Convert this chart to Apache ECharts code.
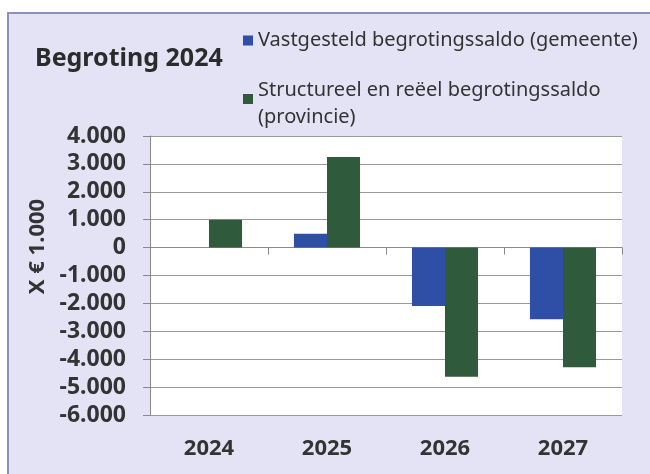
<!DOCTYPE html>
<html>
<head>
<meta charset="utf-8">
<script src="https://cdn.jsdelivr.net/npm/echarts@6/dist/echarts.min.js"></script>
<style>
html, body { margin: 0; padding: 0; background: #ffffff; }
#chart { width: 650px; height: 474px; }
</style>
</head>
<body>
<div id="chart"></div>
<script>
// jaren en saldi (x 1.000 euro)
var jaren = ['2024', '2025', '2026', '2027'];
var gemeente = [0, 500, -2090, -2570];
var provincie = [1000, 3250, -4630, -4290];
var yTicks = { min: -6000, max: 4000, interval: 1000 };

var naamGemeente = 'Vastgesteld begrotingssaldo (gemeente)';
var naamProvincie = 'Structureel en reëel begrotingssaldo\n(provincie)';

var FONT = 'Noto Sans';
var chart = echarts.init(document.getElementById('chart'));

// legenda-icoon: vierkantje bovenaan of in het midden van een hoog vak
var iconMidden = 'path://M0,13.5H10V23.5H0Z M0,0H0.01V0.01Z M0,37H0.01V36.99Z';
var iconBoven = 'path://M0,8.5H10V18.5H0Z M0,0H0.01V0.01Z M0,37H0.01V36.99Z';

var option = {
    backgroundColor: '#ffffff',
    textStyle: { fontFamily: FONT },
    graphic: [{
        type: 'rect',
        left: 7, top: 12, z: -10,
        shape: { width: 660, height: 480 },
        style: { fill: '#e3e3f5', stroke: '#8d92b8', lineWidth: 2 }
    }],
    title: {
        text: 'Begroting 2024',
        left: 35, top: 46,
        padding: 0,
        textStyle: { fontFamily: FONT, fontSize: 25, fontWeight: 'bold', color: '#2b2b2b' }
    },
    legend: {
        orient: 'vertical',
        left: 243, top: 22,
        padding: 0,
        itemGap: 18,
        itemWidth: 10,
        itemHeight: 37,
        textStyle: { fontFamily: FONT, fontSize: 20, color: '#333333', lineHeight: 27 },
        data: [
            { name: naamGemeente, icon: iconMidden },
            { name: naamProvincie, icon: iconBoven }
        ]
    },
    grid: {
        left: 150, right: 28, top: 136, bottom: 59,
        show: true, backgroundColor: '#ffffff', borderWidth: 0
    },
    xAxis: [{
        type: 'category',
        data: jaren,
        position: 'bottom',
        axisLine: { onZero: false, show: false },
        axisTick: { show: false },
        axisLabel: { margin: 23, fontFamily: FONT, fontSize: 22, fontWeight: 'bold', color: '#333333' }
    }, {
        type: 'category',
        data: jaren,
        position: 'bottom',
        axisLine: { onZero: true, lineStyle: { color: '#8a8a8a', width: 1 } },
        axisTick: { show: true, length: 7, lineStyle: { color: '#8a8a8a' } },
        axisLabel: { show: false }
    }],
    yAxis: {
        type: 'value',
        min: yTicks.min, max: yTicks.max, interval: yTicks.interval,
        name: 'X € 1.000',
        nameLocation: 'middle',
        nameGap: 100,
        nameTextStyle: {
            fontFamily: FONT, fontSize: 22, fontWeight: 'bold', color: '#333333',
            padding: [0, 0, 0, 58]
        },
        axisLine: { show: true, lineStyle: { color: '#8a8a8a' } },
        axisTick: { show: true, length: 7, lineStyle: { color: '#8a8a8a' } },
        splitLine: { lineStyle: { color: '#9a9a9a' } },
        axisLabel: {
            margin: 24, fontFamily: FONT, fontSize: 23, fontWeight: 'bold', color: '#333333',
            formatter: function (v) {
                return v.toLocaleString('de-DE');
            }
        }
    },
    series: [{
        name: naamGemeente,
        type: 'bar',
        data: gemeente,
        barGap: '0%',
        barCategoryGap: '44%',
        itemStyle: { color: '#2f4ea6' }
    }, {
        name: naamProvincie,
        type: 'bar',
        data: provincie,
        barGap: '0%',
        barCategoryGap: '44%',
        itemStyle: { color: '#2f5a3b' }
    }]
};

chart.setOption(option);
</script>
</body>
</html>
